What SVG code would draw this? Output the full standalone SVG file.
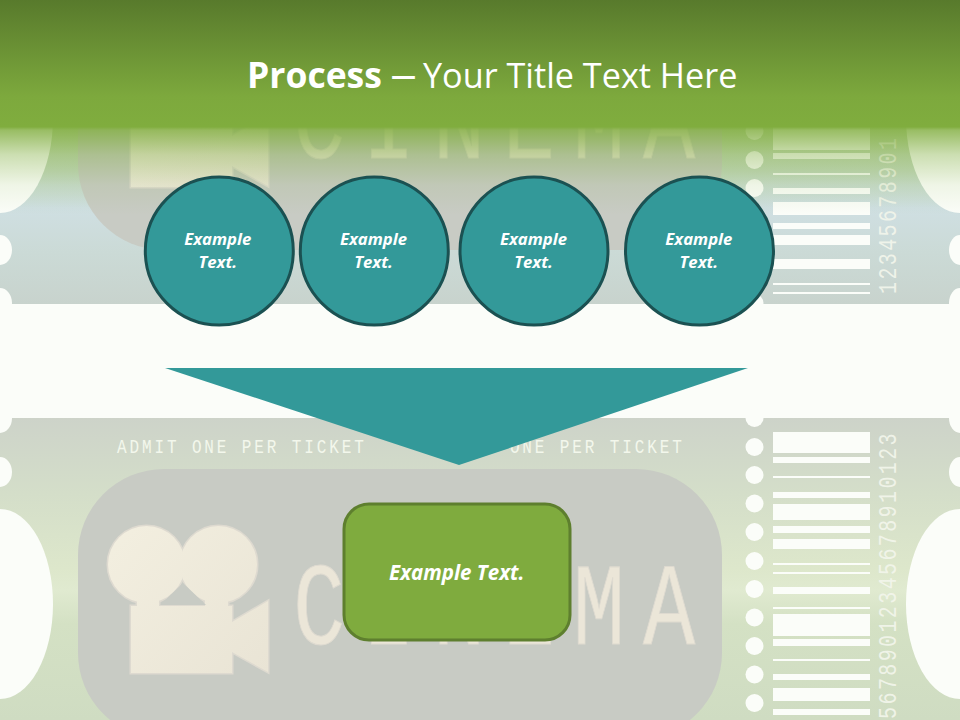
<svg xmlns="http://www.w3.org/2000/svg" width="960" height="720" viewBox="0 0 960 720">
<style>
.hole{fill:#fbfdf9}
.bars rect{fill:#fbfdf9}
.panel{fill:#c8cbc4}
.cine{font-family:"Liberation Mono",monospace;font-size:116px;fill:#ebe6d8;stroke:#dedad0;stroke-width:1;text-anchor:middle}
.digits{font-family:"Liberation Mono",monospace;font-size:25px;fill:#f3f6ec;letter-spacing:3px;opacity:.9}
.admit{font-family:"Liberation Mono",monospace;font-size:20px;fill:#f3f7ec;letter-spacing:3.6px}
.c{fill:#339999;stroke:#1b5152;stroke-width:3}
.lbl{font-family:"Open Sans","Liberation Sans",sans-serif;font-style:italic;font-weight:700;fill:#fff;text-anchor:middle}
.ttl{font-family:"Open Sans","Liberation Sans",sans-serif;fill:#fff}
</style>
<defs>
<linearGradient id="t1" x1="0" y1="100" x2="0" y2="304" gradientUnits="userSpaceOnUse">
<stop offset="0" stop-color="#bfd6a0"/><stop offset=".35" stop-color="#c4d8c0"/><stop offset=".53" stop-color="#cfdfe2"/><stop offset=".75" stop-color="#cbdad6"/><stop offset="1" stop-color="#c8d3cd"/>
</linearGradient>
<linearGradient id="t2" x1="0" y1="418" x2="0" y2="720" gradientUnits="userSpaceOnUse">
<stop offset="0" stop-color="#cdd3c9"/><stop offset=".25" stop-color="#d4dec9"/><stop offset=".5" stop-color="#dde7cb"/><stop offset=".57" stop-color="#e0ead0"/><stop offset=".68" stop-color="#d4e1c4"/><stop offset="1" stop-color="#cfdcc2"/>
</linearGradient>
<linearGradient id="camFill" x1="108" y1="525" x2="269" y2="673" gradientUnits="userSpaceOnUse">
<stop offset="0" stop-color="#f3efe0"/><stop offset="1" stop-color="#e9e4d5"/>
</linearGradient>
<linearGradient id="head" x1="0" y1="0" x2="0" y2="215" gradientUnits="userSpaceOnUse">
<stop offset="0" stop-color="#587a2c"/>
<stop offset=".45" stop-color="#7da93d"/>
<stop offset=".59" stop-color="#80ad3e"/>
<stop offset=".605" stop-color="#80ad3e" stop-opacity=".8"/>
<stop offset=".72" stop-color="#80ad3e" stop-opacity=".38"/>
<stop offset=".86" stop-color="#80ad3e" stop-opacity=".1"/>
<stop offset="1" stop-color="#80ad3e" stop-opacity="0"/>
</linearGradient>
<g id="camShape">
<circle cx="146.500" cy="564.500" r="38.500"/>
<circle cx="218.500" cy="564.500" r="38.500"/>
<path d="M137 606V596H159V606ZM205 606V596H228V606Z"/>
<path d="M131 606H232V622L268 601V672L232 652V673H131Z"/>
</g>
<g id="camera">
<use href="#camShape" fill="#dedad0" stroke="#dedad0" stroke-width="3"/>
<use href="#camShape" fill="url(#camFill)"/>
<path d="M183 583L206 605H160Z" class="panel"/>
</g>
<g id="holes">
<circle class="hole" cx="754.500" cy="418" r="9"/><circle class="hole" cx="754.500" cy="447" r="9"/><circle class="hole" cx="754.500" cy="475" r="9"/><circle class="hole" cx="754.500" cy="503.500" r="9"/><circle class="hole" cx="754.500" cy="532" r="9"/><circle class="hole" cx="754.500" cy="561" r="9"/><circle class="hole" cx="754.500" cy="589" r="9"/><circle class="hole" cx="754.500" cy="617.500" r="9"/><circle class="hole" cx="754.500" cy="646" r="9"/><circle class="hole" cx="754.500" cy="674.500" r="9"/><circle class="hole" cx="754.500" cy="703" r="9"/>
</g>
</defs>
<rect width="960" height="720" fill="#fbfdf9"/>
<g id="ticket-top">
<rect y="90" width="960" height="214" fill="url(#t1)"/>
<rect class="panel" x="78" y="-20" width="644" height="270" rx="86" ry="86"/>
<use href="#camera" y="-486"/>
<text class="cine" transform="translate(319,158) scale(.75,1)" x="0 93.300 186.700 280 373.300 466.700">CINEMA</text>
<ellipse class="hole" cx="0" cy="118" rx="53" ry="95"/>
<ellipse class="hole" cx="960" cy="118" rx="54" ry="95"/>
<ellipse class="hole" cx="0" cy="250" rx="12" ry="15"/>
<ellipse class="hole" cx="960" cy="250" rx="11" ry="15"/>
<ellipse class="hole" cx="0" cy="303" rx="12" ry="15"/>
<ellipse class="hole" cx="960" cy="303" rx="11" ry="15"/>
<circle class="hole" cx="754.500" cy="131" r="9"/><circle class="hole" cx="754.500" cy="160" r="9"/><circle class="hole" cx="754.500" cy="188" r="9"/><circle class="hole" cx="754.500" cy="217" r="9"/><circle class="hole" cx="754.500" cy="303" r="9"/>
<g class="bars">
<rect x="773" y="125" width="97" height="25"/><rect x="773" y="153" width="97" height="6"/><rect x="773" y="173" width="97" height="2"/><rect x="773" y="188" width="97" height="6"/><rect x="773" y="202" width="97" height="13"/><rect x="773" y="223" width="97" height="6"/><rect x="773" y="235" width="97" height="10"/><rect x="773" y="259" width="97" height="10"/><rect x="773" y="283" width="97" height="2"/><rect x="773" y="292" width="97" height="2"/>
</g>
<text class="digits" transform="translate(896,294) rotate(-90) scale(.8,1)">12345678901</text>
</g>
<g id="ticket-bottom">
<rect y="418" width="960" height="302" fill="url(#t2)"/>
<rect class="panel" x="78" y="469" width="644" height="270" rx="86" ry="86"/>
<use href="#camera"/>
<text class="cine" transform="translate(319,644) scale(.75,1)" x="0 93.300 186.700 280 373.300 466.700">CINEMA</text>
<text class="admit" transform="translate(117,452.700) scale(.8,1)">ADMIT ONE PER TICKET</text>
<text class="admit" transform="translate(435,452.700) scale(.8,1)">ADMIT ONE PER TICKET</text>
<ellipse class="hole" cx="0" cy="604" rx="53" ry="95"/>
<ellipse class="hole" cx="960" cy="604" rx="54" ry="95"/>
<ellipse class="hole" cx="0" cy="472" rx="12" ry="15"/>
<ellipse class="hole" cx="960" cy="472" rx="11" ry="15"/>
<ellipse class="hole" cx="0" cy="418" rx="12" ry="15"/>
<ellipse class="hole" cx="960" cy="418" rx="11" ry="15"/>
<use href="#holes"/>
<g class="bars">
<rect x="773" y="432" width="97" height="21"/><rect x="773" y="457" width="97" height="6"/><rect x="773" y="476" width="97" height="2"/><rect x="773" y="492" width="97" height="6"/><rect x="773" y="504" width="97" height="16"/><rect x="773" y="526" width="97" height="7"/><rect x="773" y="539" width="97" height="10"/><rect x="773" y="563" width="97" height="2"/><rect x="773" y="572" width="97" height="2"/><rect x="773" y="587" width="97" height="7"/><rect x="773" y="607" width="97" height="2"/><rect x="773" y="614" width="97" height="22"/><rect x="773" y="639" width="97" height="7"/><rect x="773" y="659" width="97" height="2"/><rect x="773" y="674" width="97" height="6"/><rect x="773" y="688" width="97" height="13"/><rect x="773" y="709" width="97" height="6"/>
</g>
<text class="digits" transform="translate(896,431) rotate(-90) scale(.8,1)" text-anchor="end">56789012345678910123</text>
</g>
<rect id="header-band" width="960" height="215" fill="url(#head)"/>
<g id="title"><text class="ttl" x="247" y="88" font-size="35.500" font-weight="700">Process</text><text class="ttl" transform="translate(390,88) scale(1.35,1)" font-size="40">–</text><text class="ttl" x="423" y="88" font-size="34.200">Your Title Text Here</text></g>
<g id="connectors">
<polygon points="165,368 748,368 459,465" fill="#339999"/>
</g>
<g id="node-1"><circle class="c" cx="219.300" cy="251" r="74"/><text class="lbl" font-size="16.700" x="217.700" y="245">Example</text><text class="lbl" font-size="16.700" x="217.700" y="268">Text.</text></g>
<g id="node-2"><circle class="c" cx="374.300" cy="251" r="74"/><text class="lbl" font-size="16.700" x="373.500" y="245">Example</text><text class="lbl" font-size="16.700" x="373.500" y="268">Text.</text></g>
<g id="node-3"><circle class="c" cx="534" cy="251" r="74"/><text class="lbl" font-size="16.700" x="533.500" y="245">Example</text><text class="lbl" font-size="16.700" x="533.500" y="268">Text.</text></g>
<g id="node-4"><circle class="c" cx="699.500" cy="251" r="74"/><text class="lbl" font-size="16.700" x="698.800" y="245">Example</text><text class="lbl" font-size="16.700" x="698.800" y="268">Text.</text></g>
<g id="node-5"><rect x="344" y="504" width="226" height="136" rx="25" fill="#7fab3e" stroke="#5e7f2e" stroke-width="3"/><text class="lbl" font-size="20.500" x="456.700" y="580">Example Text.</text></g>
</svg>
